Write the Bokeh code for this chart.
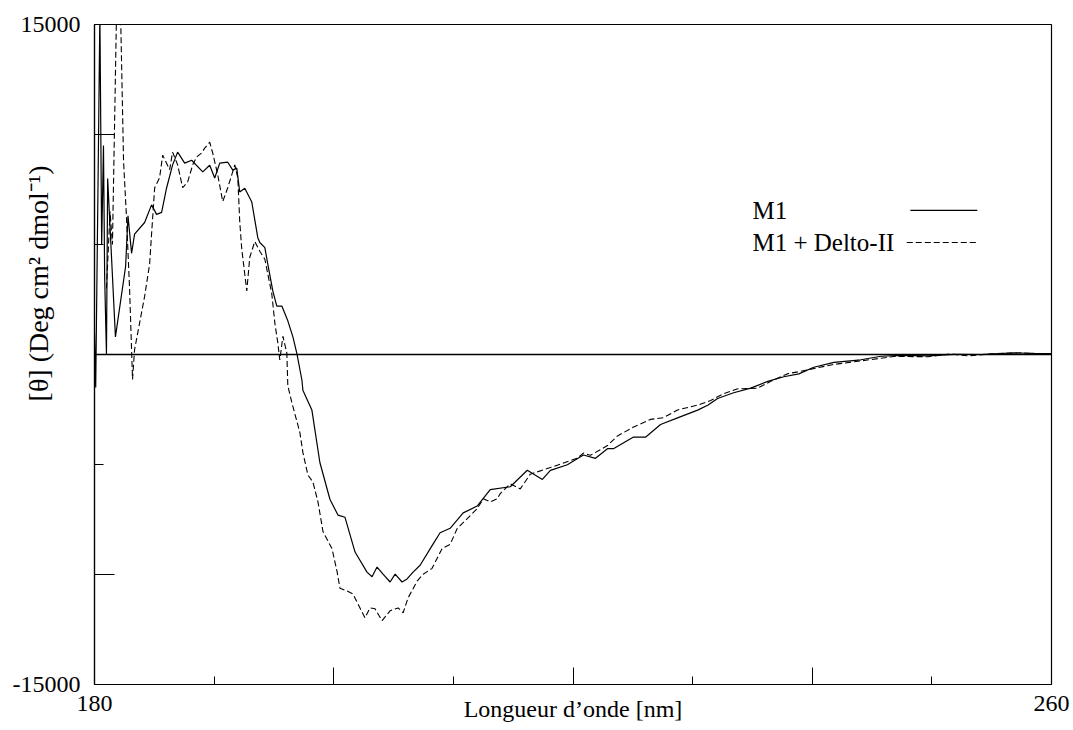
import math
from bokeh.plotting import figure
from bokeh.models import (ColumnDataSource, FixedTicker, Span, Label, Arrow, Title)
from bokeh.embed import file_html
from bokeh.resources import INLINE

# ---- data ----
wavelength_m1 = [180.0, 180.1, 180.3, 180.45, 180.6, 180.75, 180.85, 181.0, 181.1,
                 181.75, 182.6, 182.8, 183.1, 183.35, 184.19, 184.77, 185.19, 185.61,
                 186.03, 186.53, 186.95, 187.54, 188.12, 189.05, 189.63, 190.05, 190.47,
                 191.14, 191.56, 191.89, 192.14, 192.56, 193.15, 193.65, 193.82, 194.24,
                 194.49, 194.91, 195.24, 195.66, 196.16, 196.58, 196.92, 197.34, 197.42,
                 198.17, 198.84, 199.68, 200.35, 200.94, 201.78, 202.78, 203.2, 203.62,
                 204.12, 204.71, 205.13, 205.71, 206.13, 206.63, 207.22, 208.22, 208.89,
                 209.73, 210.82, 211.99, 213.08, 214.76, 216.18, 217.44, 218.11, 219.53,
                 220.87, 221.88, 222.88, 223.38, 225.06, 226.06, 227.32, 228.74, 230.42,
                 231.26, 232.09, 233.43, 234.86, 236.28, 237.62, 238.88, 240.13, 241.81,
                 244.07, 245.75, 247.42, 249.68, 251.86, 254.12, 256.88, 258.56, 260.0]
theta_m1 = [1000, -1500, 8000, 15500, 5000, 9500, 3500, 0, 8000,
            800, 4000, 6300, 4600, 5470, 6000, 6800, 6370, 6460,
            7580, 8620, 9200, 8700, 8830, 8300, 8600, 8020, 8700,
            8740, 8380, 8470, 7390, 7560, 6930, 5310, 5090, 4860,
            4100, 2880, 2200, 2200, 1530, 810, 40, -1170, -1620,
            -2520, -4910, -6580, -7300, -7400, -8980, -9890, -10100, -9660,
            -9980, -10340, -9980, -10340, -10200, -9890, -9580, -8690, -8100,
            -7900, -7200, -6890, -6140, -6010, -5260, -5680, -5270, -5010,
            -4570, -4720, -4280, -4280, -3750, -3760, -3180, -2880, -2530,
            -2310, -2000, -1740, -1530, -1220, -1010, -880, -580, -360,
            -240, -80, -40, -60, 10, 0, 70, 50, 40]

wavelength_delto = [181.0, 181.3, 181.5, 181.84, 182.18, 182.43, 182.68, 182.93, 183.1,
                    183.18, 183.35, 183.77, 184.19, 184.61, 184.77, 185.03, 185.44, 185.7,
                    186.28, 186.53, 186.95, 187.37, 187.79, 188.21, 188.54, 188.96, 189.21,
                    189.63, 189.88, 190.3, 190.72, 191.14, 191.73, 191.98, 192.14, 192.31,
                    192.56, 192.73, 192.98, 193.4, 193.82, 194.24, 194.82, 195.08, 195.33,
                    195.49, 195.75, 196.08, 196.16, 196.5, 197.17, 197.42, 197.84, 198.26,
                    198.68, 199.1, 199.85, 200.27, 200.52, 201.11, 201.61, 202.61, 203.03,
                    203.45, 204.04, 204.71, 205.38, 205.8, 206.21, 206.97, 207.47, 208.22,
                    209.06, 209.73, 210.32, 211.16, 211.99, 212.5, 213.08, 213.67, 213.92,
                    214.76, 215.59, 216.43, 218.11, 220.37, 220.87, 221.46, 222.88, 223.72,
                    225.06, 226.48, 227.57, 228.74, 230.42, 231.51, 232.6, 233.77, 235.44,
                    236.53, 237.96, 238.79, 241.81, 244.07, 246.83, 249.68, 251.5, 253.0,
                    255.0, 257.5, 259.0, 260.0]
theta_delto = [3000, 6500, 5000, 15500, 15500, 8780, 6170, 3020, 220,
               -1130, 220, 1430, 2640, 4120, 5470, 7580, 8030, 9060,
               8400, 9200, 8620, 7580, 7850, 8620, 8980, 9160, 9380,
               9650, 9160, 8170, 6950, 7580, 8620, 8030, 6050, 4790,
               3660, 2890, 4420, 5140, 4690, 4330, 2760, 1410, 510,
               -250, 830, 60, -1420, -2190, -3550, -4450, -5480, -5800,
               -6700, -8050, -8820, -9850, -10620, -10750, -10890, -11970, -11520,
               -11560, -12100, -11650, -11520, -11740, -11070, -10300, -9990, -9720,
               -8820, -8630, -7910, -7460, -7010, -6560, -6700, -6560, -6320,
               -5880, -6110, -5440, -5140, -4710, -4480, -4580, -4140, -3700,
               -3300, -2950, -2870, -2520, -2300, -2090, -1780, -1560, -1530,
               -1220, -870, -790, -450, -290, -90, -100, 20, -60,
               30, 80, 0, 50]

series_names = ["M1", "M1 + Delto-II"]
x_tick_labels = {180: "180", 260: "260"}
y_tick_labels = {-15000: "-15000", 15000: "15000"}
x_title = "Longueur d\u2019onde [nm]"
y_title = "[\u03b8] (Deg cm\u00b2 dmol\u207b\u00b9)"

FONT = "Liberation Serif"
FS = "24px"

p = figure(frame_width=957, frame_height=660,
           x_range=(180, 260), y_range=(-15000, 15000),
           output_backend="svg", toolbar_location=None,
           min_border_left=94, min_border_right=22,
           min_border_top=24, min_border_bottom=46,
           background_fill_color="white", border_fill_color="white")

p.outline_line_color = "black"
p.outline_line_width = 1.2
p.xgrid.visible = False
p.ygrid.visible = False

# x axis
xa = p.xaxis[0]
xa.ticker = FixedTicker(ticks=[180, 200, 220, 240, 260], minor_ticks=[190, 210, 230, 250])
xa.major_label_overrides = {200: "", 220: "", 240: ""} | {k: v for k, v in x_tick_labels.items()}
xa.major_tick_in = 17
xa.major_tick_out = 0
xa.minor_tick_in = 8
xa.minor_tick_out = 0
xa.major_label_text_font = FONT
xa.major_label_text_font_size = FS
xa.major_label_text_color = "black"
xa.major_label_standoff = 11
xa.axis_line_color = "black"
xa.axis_line_width = 1.2
xa.axis_label = x_title
xa.axis_label_text_font = FONT
xa.axis_label_text_font_size = FS
xa.axis_label_text_font_style = "normal"
xa.axis_label_text_color = "black"
xa.axis_label_standoff = -18

# y axis
ya = p.yaxis[0]
ya.ticker = FixedTicker(ticks=[-15000, -10000, 0, 10000, 15000], minor_ticks=[-5000, 5000])
ya.major_label_overrides = {-10000: "", 0: "", 10000: ""} | {k: v for k, v in y_tick_labels.items()}
ya.major_tick_in = 20
ya.major_tick_out = 0
ya.minor_tick_in = 9
ya.minor_tick_out = 0
ya.major_label_text_font = FONT
ya.major_label_text_font_size = FS
ya.major_label_text_color = "black"
ya.major_label_standoff = 14
ya.axis_line_color = "black"
ya.axis_line_width = 1.2

# y title as a left-side title, placed over the tick label column
p.add_layout(Title(text=y_title, align="right", offset=141, standoff=-88,
                   text_font=FONT, text_font_size="28px", text_font_style="normal",
                   text_color="black"), "left")

# zero line
p.add_layout(Span(location=0, dimension="width", line_color="black", line_width=1.3))

src_m1 = ColumnDataSource(dict(x=wavelength_m1, y=theta_m1))
src_d = ColumnDataSource(dict(x=wavelength_delto, y=theta_delto))

p.line("x", "y", source=src_m1, line_color="black", line_width=1.2)
p.line("x", "y", source=src_d, line_color="black", line_width=1.1, line_dash="6 3")

# legend (label on the left, sample on the right)
p.add_layout(Label(x=235.0, y=6550, text=series_names[0], text_font=FONT,
                   text_font_size="25px", text_color="black", text_baseline="middle"))
p.add_layout(Label(x=235.0, y=5090, text=series_names[1], text_font=FONT,
                   text_font_size="25px", text_color="black", text_baseline="middle"))
p.add_layout(Arrow(end=None, x_start=248.2, y_start=6550, x_end=253.8, y_end=6550,
                   line_color="black", line_width=1.2))
p.add_layout(Arrow(end=None, x_start=247.9, y_start=5090, x_end=253.8, y_end=5090,
                   line_color="black", line_width=1.1, line_dash="6 3"))

open("out.html", "w").write(file_html(p, INLINE))
